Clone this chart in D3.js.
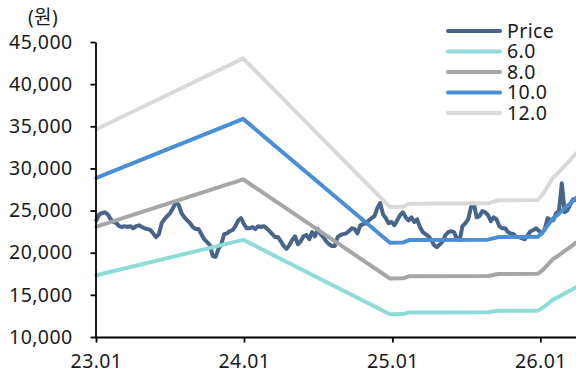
<!DOCTYPE html>
<html>
<head>
<meta charset="utf-8">
<script src="https://cdn.jsdelivr.net/npm/d3@7"></script>
<style>
  html, body { margin: 0; padding: 0; background: #ffffff; }
  svg { display: block; }
  text { font-family: "Noto Sans", "Noto Sans CJK KR", sans-serif; fill: #1a1a1a; letter-spacing: 0.4px; }
</style>
</head>
<body>
<svg id="chart" width="576" height="376"></svg>
<script>
// Weekly closing price (원), one value per Monday starting 2023-01-02
const priceStart = "2023-01-02";
const priceValues = [
  23850, 24550, 24700, 24800, 24550, 24000, 23650, 23500, 23150, 23050,
  23150, 23050, 23150, 22900, 23150, 23250, 23050, 22900, 22800, 22700,
  22300, 21850, 22200, 23500, 24000, 24350, 24700, 25300, 26000, 25650,
  24700, 24200, 23850, 23500, 23050, 22800, 22800, 22200, 21600, 21250,
  20900, 19600, 19500, 20450, 21000, 22200, 22300, 22550, 22700, 23150,
  23850, 24100, 23400, 22900, 22900, 23050, 22800, 23150, 23050, 23150,
  22900, 22550, 22200, 21850, 21850, 21350, 20800, 20450, 20900, 21500,
  21950, 21000, 21350, 21950, 22100, 21600, 22450, 21950, 22800, 22200,
  21850, 21350, 21000, 20800, 20800, 21850, 22100, 22200, 22300, 22550,
  22900, 22800, 22300, 23250, 23400, 23500, 23850, 24100, 24350, 25300,
  25900, 24550, 24100, 23500, 23650, 23250, 23850, 24450, 24800, 24200,
  23850, 24200, 23650, 23950, 23050, 22450, 22200, 21950, 21500, 20900,
  20650, 21000, 21350, 22100, 22450, 22550, 22450, 21700, 21500, 23150,
  23500, 23950, 25400, 25850, 24200, 24350, 24950, 24800, 24450, 23750,
  24200, 23950, 23150, 22900, 22900, 22450, 22300, 22200, 21850, 21850,
  21700, 21600, 22100, 22550, 22700, 22900, 22550, 22300, 22800, 24100,
  23850, 23850, 24700, 24950, 28250, 24800, 25050, 25750, 26350, 26250
];

// Forward EPS (원) at its turning points
const epsDates = [
  "2023-01-02", "2023-12-30", "2024-12-26", "2025-01-27", "2025-02-11",
  "2025-08-25", "2025-09-19", "2025-12-26", "2026-01-08", "2026-01-25",
  "2026-02-01", "2026-02-14", "2026-03-03", "2026-03-15", "2026-03-30"
];
const epsValues = [
  2887, 3588, 2118, 2120, 2150,
  2155, 2185, 2188, 2250, 2360,
  2405, 2455, 2530, 2580, 2650
];

// PER multiples for the band lines
const multiples = [6, 8, 10, 12];

const seriesNames = ["Price", "6.0", "8.0", "10.0", "12.0"];
const seriesColors = ["#47648a", "#8ddcd6", "#a6a6a6", "#4a8fd6", "#d9d9d9"];

const yTicks = [10000, 15000, 20000, 25000, 30000, 35000, 40000, 45000];
const xTickDates = ["2023-01-01", "2024-01-01", "2025-01-01", "2026-01-01"];
const xTickLabels = ["23.01", "24.01", "25.01", "26.01"];
const unitLabel = "(원)";

const parse = d3.timeParse("%Y-%m-%d");
const svg = d3.select("#chart");

const x = d3.scaleTime()
  .domain([parse("2023-01-01"), parse("2026-03-30")])
  .range([96, 576]);
const y = d3.scaleLinear()
  .domain([10000, 45000])
  .range([337, 42]);

// Price series on a weekly calendar
const priceDates = d3.timeMonday.range(parse(priceStart), d3.timeDay.offset(parse(priceStart), 7 * priceValues.length));
const priceData = priceValues.map((v, i) => ({ date: priceDates[i], value: v }));

// Band series: multiple × EPS
const epsData = epsDates.map((d, i) => ({ date: parse(d), eps: epsValues[i] }));
const bandData = multiples.map(m => epsData.map(p => ({ date: p.date, value: p.eps * m })));

const line = d3.line().x(d => x(d.date)).y(d => y(d.value));

const plot = svg.append("g");
const allSeries = [priceData, ...bandData];
allSeries.forEach((data, i) => {
  plot.append("path")
    .datum(data)
    .attr("fill", "none")
    .attr("stroke", seriesColors[i])
    .attr("stroke-width", 4)
    .attr("stroke-linejoin", "round")
    .attr("stroke-linecap", "round")
    .attr("d", line);
});

// Axes
const yAxis = d3.axisLeft(y)
  .tickValues(yTicks)
  .tickSize(5)
  .tickSizeOuter(0)
  .tickPadding(18)
  .tickFormat(d3.format(","));
const gy = svg.append("g").attr("transform", "translate(95.5,0)").call(yAxis);
gy.selectAll("text").style("font-size", "19.5px");
gy.select(".domain").attr("stroke", "#000").attr("stroke-width", 1.8);
gy.selectAll(".tick line").attr("stroke", "#000").attr("stroke-width", 1.8);

const xAxis = d3.axisBottom(x)
  .tickValues(xTickDates.map(parse))
  .tickSize(5)
  .tickSizeOuter(0)
  .tickPadding(12)
  .tickFormat((d, i) => xTickLabels[i]);
const gx = svg.append("g").attr("transform", "translate(0,337.5)").call(xAxis);
gx.selectAll("text").style("font-size", "19.5px");
gx.select(".domain").attr("d", "M95,0H576").attr("stroke", "#000").attr("stroke-width", 1.8);
gx.selectAll(".tick line").attr("stroke", "#000").attr("stroke-width", 1.8);

// Unit label
svg.append("text")
  .attr("x", 43).attr("y", 24)
  .attr("text-anchor", "middle")
  .style("font-size", "19px")
  .text(unitLabel);

// Legend
const legend = svg.append("g");
const legendRows = [31, 51.5, 72, 92.5, 113];
seriesNames.forEach((name, i) => {
  legend.append("line")
    .attr("x1", 448).attr("x2", 500)
    .attr("y1", legendRows[i]).attr("y2", legendRows[i])
    .attr("stroke", seriesColors[i])
    .attr("stroke-width", 4)
    .attr("stroke-linecap", "round");
  legend.append("text")
    .attr("x", 507).attr("y", legendRows[i])
    .attr("dy", "0.35em")
    .style("font-size", "19.5px")
    .text(name);
});
</script>
</body>
</html>
